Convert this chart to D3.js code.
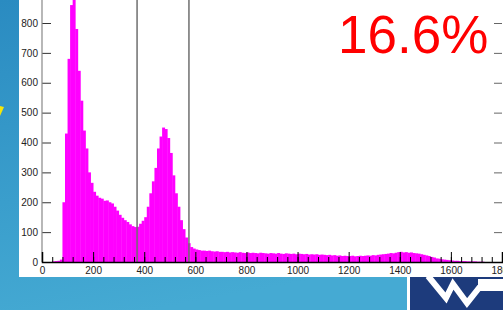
<!DOCTYPE html>
<html><head><meta charset="utf-8">
<script src="https://cdn.jsdelivr.net/npm/d3@7/dist/d3.min.js"></script>
<style>html,body{margin:0;padding:0;background:#3a9ccb;}svg{display:block;}</style>
</head><body>
<svg id="c" width="503" height="310"></svg>
<script>
// histogram bins: start of each 10-unit bin and its count
const binStarts = d3.range(0, 1800, 10);
const counts = [
  0,0,0,0,2,3,4,8,200,430,
  680,860,930,780,640,540,440,380,300,265,
  235,222,215,212,205,206,200,196,185,172,
  158,148,140,134,126,120,117,118,128,138,
  150,185,230,270,315,380,420,450,445,415,
  365,290,230,185,140,110,82,63,50,45,
  42,40,38,38,37,38,36,35,36,34,
  34,33,34,32,33,32,31,33,31,30,
  32,30,31,30,29,31,30,29,28,30,
  29,28,30,28,27,29,28,27,28,26,
  28,27,26,27,25,26,25,26,24,25,
  24,23,24,22,23,21,22,20,21,20,
  20,21,19,20,21,20,21,22,21,23,
  22,24,25,26,27,28,30,29,31,33,
  34,32,33,31,32,30,29,28,26,24,
  22,20,17,15,12,11,9,8,7,6,
  5,4,4,3,3,3,2,2,2,2,
  1,1,1,0,0,0,0,0,0,0
];
const binWidth = 10;
const gateLines = [372, 575];
const xMajorTicks = d3.range(0, 1801, 200);
const xMinorTicks = d3.range(0, 1801, 40);
const yTicks = d3.range(0, 801, 100);
const percentLabel = "16.6%";

const svg = d3.select("#c");
const defs = svg.append("defs");
const g = defs.append("linearGradient").attr("id","bg").attr("x1",0).attr("y1",0).attr("x2",0.3).attr("y2",1);
g.append("stop").attr("offset","0%").attr("stop-color","#2a8bc1");
g.append("stop").attr("offset","60%").attr("stop-color","#3a9ecc");
g.append("stop").attr("offset","100%").attr("stop-color","#45aad3");
svg.append("rect").attr("width",503).attr("height",310).attr("fill","url(#bg)");

// yellow arrow fragment
svg.append("polygon").attr("points","0,106 4,107 0,116").attr("fill","#f5e60a");

// white panel
svg.append("rect").attr("x",19).attr("y",0).attr("width",484).attr("height",277).attr("fill","#ffffff");

// logo
svg.append("rect").attr("x",407).attr("y",277).attr("width",3).attr("height",33).attr("fill","#ffffff");
svg.append("rect").attr("x",410).attr("y",277).attr("width",93).attr("height",33).attr("fill","#1d3b7c");
svg.append("polyline").attr("points","428,276 446,298 453,284 467,303 479,288 503,288")
  .attr("fill","none").attr("stroke","#ffffff").attr("stroke-width",6).attr("stroke-linejoin","miter");
svg.append("rect").attr("x",478).attr("y",279).attr("width",25).attr("height",8).attr("fill","#ffffff");

const x = d3.scaleLinear().domain([0,1800]).range([42,502]);
const y = d3.scaleLinear().domain([0,800]).range([262,23]);

const plot = svg.append("g");
plot.append("defs").append("clipPath").attr("id","clip").append("rect")
  .attr("x",19).attr("y",0).attr("width",484).attr("height",262);

plot.append("g").attr("clip-path","url(#clip)").selectAll("rect").data(binStarts).join("rect")
  .attr("x", d => x(d))
  .attr("width", x(binWidth) - x(0) + 0.4)
  .attr("y", (d,i) => y(counts[i]))
  .attr("height", (d,i) => y(0) - y(counts[i]))
  .attr("fill", "#ff00ff");

// gate lines
plot.selectAll("line.gate").data(gateLines).join("line").attr("class","gate")
  .attr("x1", d => x(d)).attr("x2", d => x(d)).attr("y1", 0).attr("y2", y(0))
  .attr("stroke", "#6f6f6f").attr("stroke-width", 1.5);

const font = "'Liberation Sans', Arial, sans-serif";

// y axis
const yAx = svg.append("g").attr("transform",`translate(${x(0)},0)`)
  .call(d3.axisLeft(y).tickValues(yTicks).tickSize(-9).tickPadding(4).tickFormat(d3.format("d")));
yAx.select(".domain").remove();
yAx.selectAll(".tick line").attr("stroke","#333");
yAx.selectAll("text").attr("font-family",font).attr("font-size",10).attr("fill","#222");
svg.append("line").attr("x1",x(0)).attr("x2",x(0)).attr("y1",0).attr("y2",y(0)).attr("stroke","#888").attr("stroke-width",1.2);

// right axis ticks
const rAx = svg.append("g").attr("transform",`translate(${x(1800)},0)`)
  .call(d3.axisRight(y).tickValues(yTicks.slice(1)).tickSize(-8).tickFormat(""));
rAx.select(".domain").remove();
rAx.selectAll(".tick line").attr("stroke","#666");

// x axis minor
const xMin = svg.append("g").attr("transform",`translate(0,${y(0)})`)
  .call(d3.axisBottom(x).tickValues(xMinorTicks).tickSize(-5).tickFormat(""));
xMin.select(".domain").remove();
xMin.selectAll(".tick line").attr("stroke","#000");
// x axis major
const xMaj = svg.append("g").attr("transform",`translate(0,${y(0)})`)
  .call(d3.axisBottom(x).tickValues(xMajorTicks).tickSize(-10).tickPadding(5).tickFormat(d3.format("d")));
xMaj.select(".domain").attr("stroke","#000").attr("stroke-width",1.5);
xMaj.selectAll(".tick line").attr("stroke","#000");
xMaj.selectAll("text").attr("font-family",font).attr("font-size",10).attr("fill","#222");

// percentage label
svg.append("text").attr("x",338).attr("y",53).attr("font-family",font).attr("font-size",53)
  .attr("fill","#ff0000").text(percentLabel);
</script>
</body></html>
